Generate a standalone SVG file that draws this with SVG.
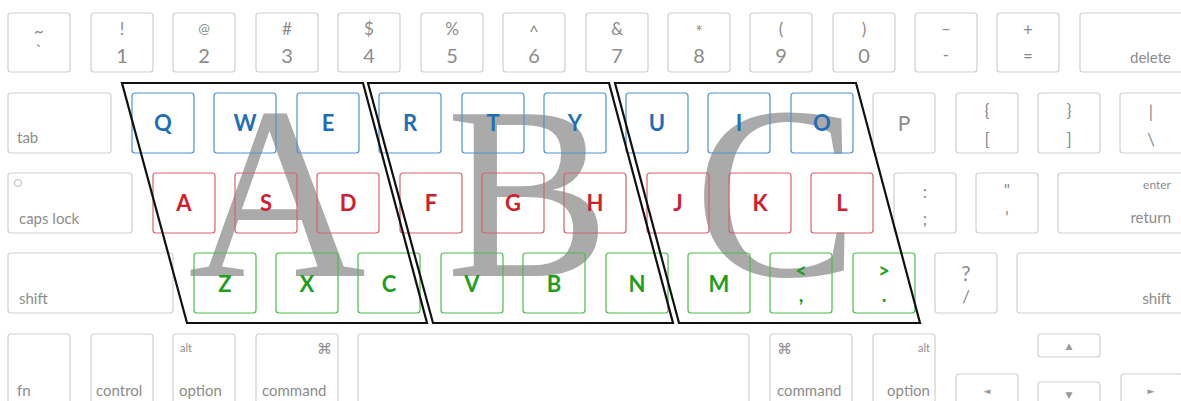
<svg xmlns="http://www.w3.org/2000/svg" width="1181" height="401" viewBox="0 0 1181 401">
<style>
.k{fill:none;stroke:#cfcfcf;stroke-width:1.2}
.kb{fill:none;stroke:#4f94cf;stroke-width:1.2}
.kr{fill:none;stroke:#d36470;stroke-width:1.2}
.kg{fill:none;stroke:#4cbc4c;stroke-width:1.2}
text{font-family:Lato,"Open Sans","DejaVu Sans",sans-serif}
.g{fill:#8c8c8c;text-anchor:middle}
.d{font-size:20px}
.s{font-size:17px}
.l{fill:#8c8c8c;font-size:15px}
.r{fill:#8c8c8c;font-size:15px;text-anchor:end}
.lb{font-weight:700;font-size:22px;text-anchor:middle}
.bl{fill:#1f6fb8}
.rd{fill:#d0202f}
.gr{fill:#1f9e1f}
.big{font-family:"Liberation Serif","Times New Roman",serif;font-size:246px;fill:#aaaaaa;text-anchor:middle}
.frame{fill:none;stroke:#111;stroke-width:2.2;stroke-linejoin:miter}
.ar{fill:#999;font-size:9px;text-anchor:middle}
</style>
<rect x="0" y="0" width="1181" height="401" fill="#ffffff"/>
<g id="bigletters">
<text class="big" x="277" y="276">A</text>
<text class="big" x="528" y="276">B</text>
<text class="big" x="776" y="276">C</text>
</g>
<!-- Row 1 -->
<g id="key-tilde"><rect class="k" x="8" y="13" width="62" height="59" rx="3"/><text class="g s" x="39" y="37">~</text><text class="g s" x="39" y="57">`</text></g>
<g id="key-1"><rect class="k" x="91" y="13" width="62" height="59" rx="3"/><text class="g s" x="122" y="35">!</text><text class="g d" x="122" y="63">1</text></g>
<g id="key-2"><rect class="k" x="173" y="13" width="62" height="59" rx="3"/><text class="g s" style="font-size:14px" x="204" y="33">@</text><text class="g d" x="204" y="63">2</text></g>
<g id="key-3"><rect class="k" x="256" y="13" width="62" height="59" rx="3"/><text class="g s" x="287" y="35">#</text><text class="g d" x="287" y="63">3</text></g>
<g id="key-4"><rect class="k" x="338" y="13" width="62" height="59" rx="3"/><text class="g s" x="369" y="35">$</text><text class="g d" x="369" y="63">4</text></g>
<g id="key-5"><rect class="k" x="421" y="13" width="62" height="59" rx="3"/><text class="g s" x="452" y="35">%</text><text class="g d" x="452" y="63">5</text></g>
<g id="key-6"><rect class="k" x="503" y="13" width="62" height="59" rx="3"/><text class="g s" x="534" y="38">^</text><text class="g d" x="534" y="63">6</text></g>
<g id="key-7"><rect class="k" x="586" y="13" width="62" height="59" rx="3"/><text class="g s" x="617" y="35">&amp;</text><text class="g d" x="617" y="63">7</text></g>
<g id="key-8"><rect class="k" x="668" y="13" width="62" height="59" rx="3"/><text class="g s" x="699" y="38">*</text><text class="g d" x="699" y="63">8</text></g>
<g id="key-9"><rect class="k" x="750" y="13" width="62" height="59" rx="3"/><text class="g s" x="781" y="35">(</text><text class="g d" x="781" y="63">9</text></g>
<g id="key-0"><rect class="k" x="833" y="13" width="62" height="59" rx="3"/><text class="g s" x="864" y="35">)</text><text class="g d" x="864" y="63">0</text></g>
<g id="key-minus"><rect class="k" x="915" y="13" width="62" height="59" rx="3"/><text class="g s" x="946" y="35">–</text><text class="g s" x="946" y="61">-</text></g>
<g id="key-plus"><rect class="k" x="997" y="13" width="62" height="59" rx="3"/><text class="g s" x="1028" y="36">+</text><text class="g s" x="1028" y="62">=</text></g>
<g id="key-delete"><rect class="k" x="1080" y="13" width="110" height="59" rx="3"/><text class="r" x="1171" y="63">delete</text></g>
<!-- Row 2 -->
<g id="key-tab"><rect class="k" x="8" y="93" width="103" height="60" rx="3"/><text class="l" x="17" y="143">tab</text></g>
<g id="key-Q"><rect class="kb" x="132" y="93" width="62" height="60" rx="3"/><text class="lb bl" x="163" y="131">Q</text></g>
<g id="key-W"><rect class="kb" x="214" y="93" width="62" height="60" rx="3"/><text class="lb bl" x="245" y="131">W</text></g>
<g id="key-E"><rect class="kb" x="297" y="93" width="62" height="60" rx="3"/><text class="lb bl" x="328" y="131">E</text></g>
<g id="key-R"><rect class="kb" x="379" y="93" width="62" height="60" rx="3"/><text class="lb bl" x="410" y="131">R</text></g>
<g id="key-T"><rect class="kb" x="462" y="93" width="62" height="60" rx="3"/><text class="lb bl" x="493" y="131">T</text></g>
<g id="key-Y"><rect class="kb" x="544" y="93" width="62" height="60" rx="3"/><text class="lb bl" x="575" y="131">Y</text></g>
<g id="key-U"><rect class="kb" x="626" y="93" width="62" height="60" rx="3"/><text class="lb bl" x="657" y="131">U</text></g>
<g id="key-I"><rect class="kb" x="708" y="93" width="62" height="60" rx="3"/><text class="lb bl" x="739" y="131">I</text></g>
<g id="key-O"><rect class="kb" x="791" y="93" width="62" height="60" rx="3"/><text class="lb bl" x="822" y="131">O</text></g>
<g id="key-P"><rect class="k" x="873" y="93" width="62" height="60" rx="3"/><text class="g" style="font-size:21px" x="904" y="131">P</text></g>
<g id="key-lbrace"><rect class="k" x="956" y="93" width="62" height="60" rx="3"/><text class="g s" x="987" y="117">{</text><text class="g s" x="987" y="146">[</text></g>
<g id="key-rbrace"><rect class="k" x="1038" y="93" width="62" height="60" rx="3"/><text class="g s" x="1069" y="117">}</text><text class="g s" x="1069" y="146">]</text></g>
<g id="key-pipe"><rect class="k" x="1120" y="93" width="70" height="60" rx="3"/><text class="g s" x="1151" y="118">|</text><text class="g s" x="1151" y="146">\</text></g>
<!-- Row 3 -->
<g id="key-caps"><rect class="k" x="8" y="173" width="124" height="60" rx="3"/><circle cx="18" cy="183" r="3.5" fill="none" stroke="#b8b8b8" stroke-width="1"/><text class="l" x="19" y="224">caps lock</text></g>
<g id="key-A"><rect class="kr" x="153" y="173" width="62" height="60" rx="3"/><text class="lb rd" x="184" y="211">A</text></g>
<g id="key-S"><rect class="kr" x="235" y="173" width="62" height="60" rx="3"/><text class="lb rd" x="266" y="211">S</text></g>
<g id="key-D"><rect class="kr" x="317" y="173" width="62" height="60" rx="3"/><text class="lb rd" x="348" y="211">D</text></g>
<g id="key-F"><rect class="kr" x="400" y="173" width="62" height="60" rx="3"/><text class="lb rd" x="431" y="211">F</text></g>
<g id="key-G"><rect class="kr" x="482" y="173" width="62" height="60" rx="3"/><text class="lb rd" x="513" y="211">G</text></g>
<g id="key-H"><rect class="kr" x="564" y="173" width="62" height="60" rx="3"/><text class="lb rd" x="595" y="211">H</text></g>
<g id="key-J"><rect class="kr" x="647" y="173" width="62" height="60" rx="3"/><text class="lb rd" x="678" y="211">J</text></g>
<g id="key-K"><rect class="kr" x="729" y="173" width="62" height="60" rx="3"/><text class="lb rd" x="760" y="211">K</text></g>
<g id="key-L"><rect class="kr" x="811" y="173" width="62" height="60" rx="3"/><text class="lb rd" x="842" y="211">L</text></g>
<g id="key-semicolon"><rect class="k" x="894" y="173" width="62" height="60" rx="3"/><text class="g s" x="925" y="198">:</text><text class="g s" x="925" y="225">;</text></g>
<g id="key-quote"><rect class="k" x="976" y="173" width="62" height="60" rx="3"/><text class="g s" x="1007" y="197">"</text><text class="g s" x="1007" y="224">'</text></g>
<g id="key-enter"><rect class="k" x="1058" y="173" width="130" height="60" rx="3"/><text class="r" style="font-size:12px" x="1171" y="189">enter</text><text class="r" x="1171" y="223">return</text></g>
<!-- Row 4 -->
<g id="key-shift-l"><rect class="k" x="8" y="253" width="165" height="60" rx="3"/><text class="l" x="19" y="304">shift</text></g>
<g id="key-Z"><rect class="kg" x="194" y="253" width="62" height="60" rx="3"/><text class="lb gr" x="225" y="292">Z</text></g>
<g id="key-X"><rect class="kg" x="276" y="253" width="62" height="60" rx="3"/><text class="lb gr" x="307" y="292">X</text></g>
<g id="key-C"><rect class="kg" x="358" y="253" width="62" height="60" rx="3"/><text class="lb gr" x="389" y="292">C</text></g>
<g id="key-V"><rect class="kg" x="441" y="253" width="62" height="60" rx="3"/><text class="lb gr" x="472" y="292">V</text></g>
<g id="key-B"><rect class="kg" x="523" y="253" width="62" height="60" rx="3"/><text class="lb gr" x="554" y="292">B</text></g>
<g id="key-N"><rect class="kg" x="606" y="253" width="62" height="60" rx="3"/><text class="lb gr" x="637" y="292">N</text></g>
<g id="key-M"><rect class="kg" x="688" y="253" width="62" height="60" rx="3"/><text class="lb gr" x="719" y="292">M</text></g>
<g id="key-comma"><rect class="kg" x="770" y="253" width="62" height="60" rx="3"/><text class="lb gr" style="font-size:20px" x="801" y="278">&lt;</text><text class="lb gr" style="font-size:20px" x="801" y="302">,</text></g>
<g id="key-period"><rect class="kg" x="853" y="253" width="62" height="60" rx="3"/><text class="lb gr" style="font-size:20px" x="884" y="278">&gt;</text><text class="lb gr" style="font-size:20px" x="884" y="302">.</text></g>
<g id="key-slash"><rect class="k" x="935" y="253" width="62" height="60" rx="3"/><text class="g" style="font-size:21px" x="966" y="281">?</text><text class="g s" x="966" y="303">/</text></g>
<g id="key-shift-r"><rect class="k" x="1017" y="253" width="170" height="60" rx="3"/><text class="r" x="1171" y="304">shift</text></g>
<!-- Row 5 -->
<g id="key-fn"><rect class="k" x="8" y="334" width="62" height="80" rx="3"/><text class="l" x="17" y="396">fn</text></g>
<g id="key-control"><rect class="k" x="91" y="334" width="62" height="80" rx="3"/><text class="l" x="96" y="396">control</text></g>
<g id="key-option-l"><rect class="k" x="173" y="334" width="62" height="80" rx="3"/><text class="l" style="font-size:11px" x="180" y="352">alt</text><text class="l" x="179" y="396">option</text></g>
<g id="key-command-l"><rect class="k" x="256" y="334" width="82" height="80" rx="3"/><text class="r" style="font-size:15px" x="332" y="354">⌘</text><text class="l" x="262" y="396">command</text></g>
<g id="key-space"><rect class="k" x="358" y="334" width="391" height="80" rx="3"/></g>
<g id="key-command-r"><rect class="k" x="770" y="334" width="82" height="80" rx="3"/><text class="l" x="777" y="354">⌘</text><text class="l" x="777" y="396">command</text></g>
<g id="key-option-r"><rect class="k" x="873" y="334" width="62" height="80" rx="3"/><text class="r" style="font-size:11px" x="930" y="352">alt</text><text class="r" x="930" y="396">option</text></g>
<g id="key-up"><rect class="k" x="1038" y="334" width="62" height="23" rx="3"/><text class="ar" x="1069" y="349">▲</text></g>
<g id="key-left"><rect class="k" x="956" y="374" width="62" height="40" rx="3"/><text class="ar" x="987" y="394">◄</text></g>
<g id="key-down"><rect class="k" x="1038" y="382" width="62" height="32" rx="3"/><text class="ar" x="1069" y="398">▼</text></g>
<g id="key-right"><rect class="k" x="1121" y="374" width="62" height="40" rx="3"/><text class="ar" x="1151" y="394">►</text></g>
<g id="frames">
<polygon class="frame" points="122,83 363,83 427,323 187,323"/>
<polygon class="frame" points="368,83 609,83 673,323 433,323"/>
<polygon class="frame" points="615,83 856,83 920,323 679,323"/>
</g>
</svg>
